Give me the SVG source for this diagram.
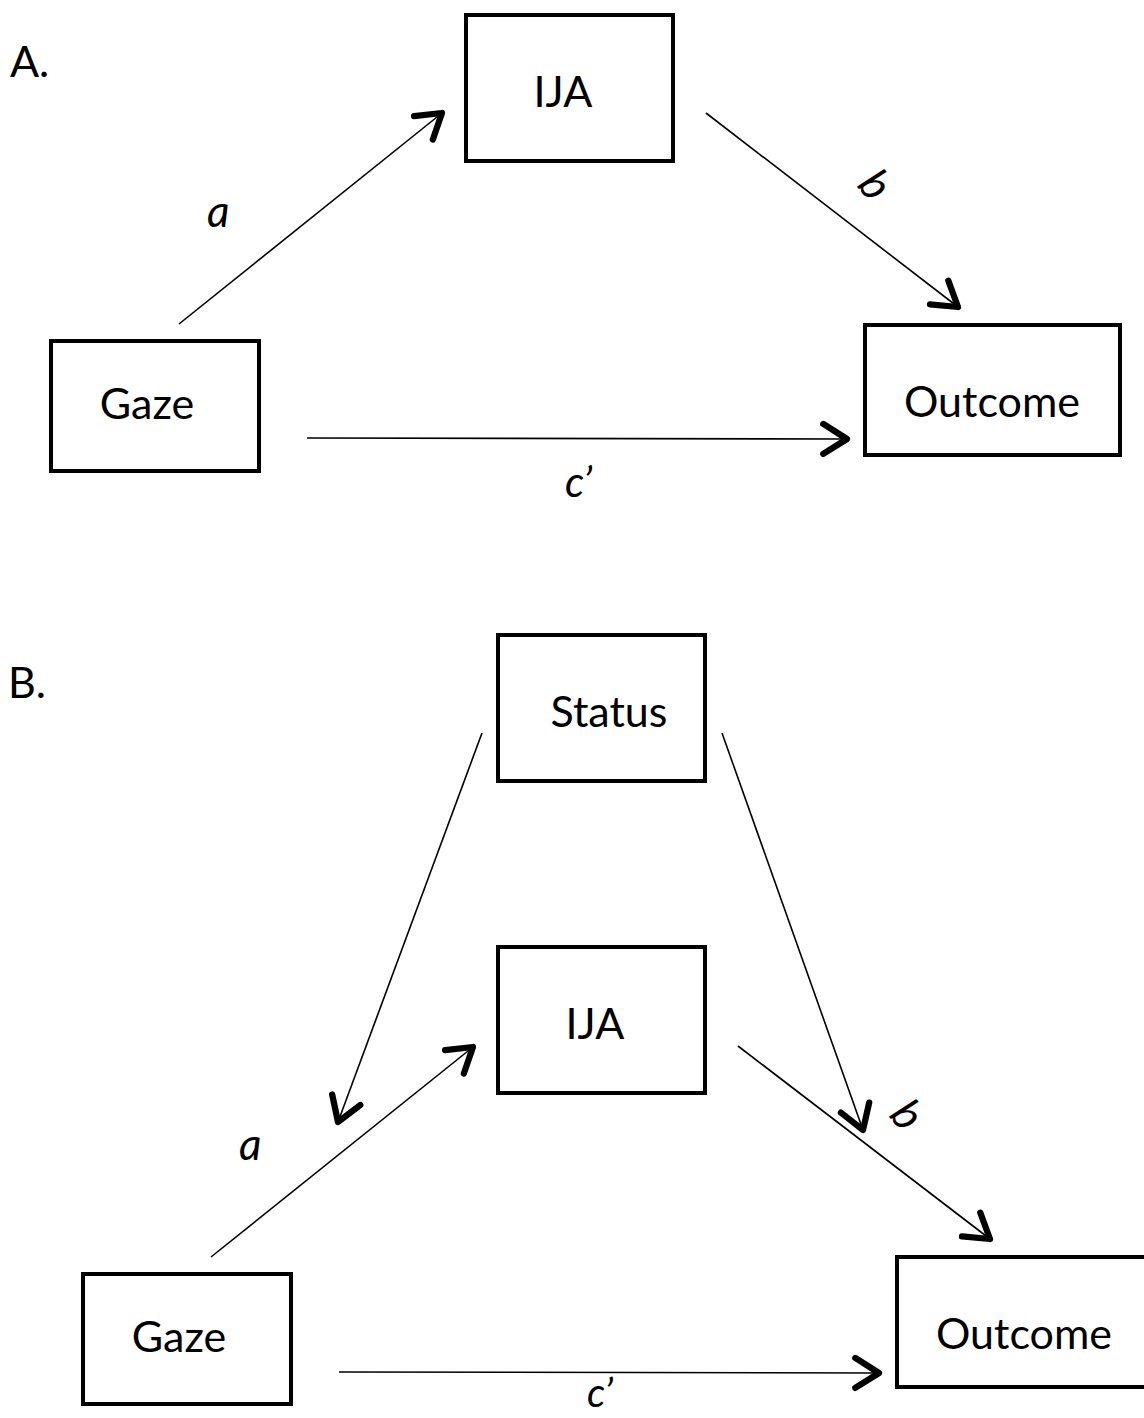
<svg xmlns="http://www.w3.org/2000/svg" width="1144" height="1418" viewBox="0 0 1144 1418">
<style>
.box{fill:#fff;stroke:#000;stroke-width:4}
.t{font-family:Lato,"Open Sans","Liberation Sans",sans-serif;font-size:43px;fill:#000}
.c{text-anchor:middle}
.lbl{font-family:Lato,"Open Sans","Liberation Sans",sans-serif;font-style:italic;fill:#000}
.ln{stroke:#000;stroke-width:1.6;fill:none}
</style>
<defs>
<marker id="ah" markerUnits="userSpaceOnUse" markerWidth="40" markerHeight="40" viewBox="-24 -16 28 32" refX="0" refY="0" orient="auto">
<path d="M-19,-12 L0,0 L-19,12" fill="none" stroke="#000" stroke-width="5" stroke-linecap="round" stroke-linejoin="round"/>
</marker>
</defs>
<rect width="1144" height="1418" fill="#fff"/>
<text class="t" x="10" y="77">A.</text>
<text class="t" x="8" y="698">B.</text>
<g id="A-IJA"><rect class="box" x="466" y="15" width="207" height="146"/><text class="t c" x="563" y="107">IJA</text></g>
<g id="A-Gaze"><rect class="box" x="51" y="341" width="208" height="130"/><text class="t c" x="147" y="419">Gaze</text></g>
<g id="A-Outcome"><rect class="box" x="865" y="325" width="255" height="130"/><text class="t c" x="992" y="417">Outcome</text></g>
<g id="B-Status"><rect class="box" x="498" y="635" width="207" height="146"/><text class="t c" x="609" y="727">Status</text></g>
<g id="B-IJA"><rect class="box" x="498" y="947" width="207" height="146"/><text class="t c" x="595" y="1039">IJA</text></g>
<g id="B-Gaze"><rect class="box" x="83" y="1274" width="208" height="130"/><text class="t c" x="179" y="1352">Gaze</text></g>
<g id="B-Outcome"><rect class="box" x="897" y="1257" width="270" height="130"/><text class="t c" x="1024" y="1349">Outcome</text></g>
<g id="connectors">
<line class="ln" x1="179" y1="324" x2="442" y2="113" marker-end="url(#ah)"/>
<line class="ln" x1="706" y1="113" x2="958" y2="307" marker-end="url(#ah)"/>
<line class="ln" x1="307" y1="438" x2="847" y2="439" marker-end="url(#ah)"/>
<line class="ln" x1="482" y1="733" x2="338" y2="1122" marker-end="url(#ah)"/>
<line class="ln" x1="722" y1="733" x2="863" y2="1130" marker-end="url(#ah)"/>
<line class="ln" x1="211" y1="1257" x2="473" y2="1047" marker-end="url(#ah)"/>
<line class="ln" x1="738" y1="1046" x2="990" y2="1239" marker-end="url(#ah)"/>
<line class="ln" x1="339" y1="1372" x2="879" y2="1373" marker-end="url(#ah)"/>
</g>
<g id="labels">
<text class="lbl" x="207" y="227" font-size="44">a</text>
<text class="lbl c" x="875" y="200" font-size="44" transform="rotate(50 875 185)">b</text>
<text class="lbl" x="565" y="497" font-size="42">c’</text>
<text class="lbl" x="239" y="1160" font-size="44">a</text>
<text class="lbl c" x="907" y="1130" font-size="44" transform="rotate(50 907 1115)">b</text>
<text class="lbl" x="587" y="1407" font-size="40">c’</text>
</g>
</svg>
